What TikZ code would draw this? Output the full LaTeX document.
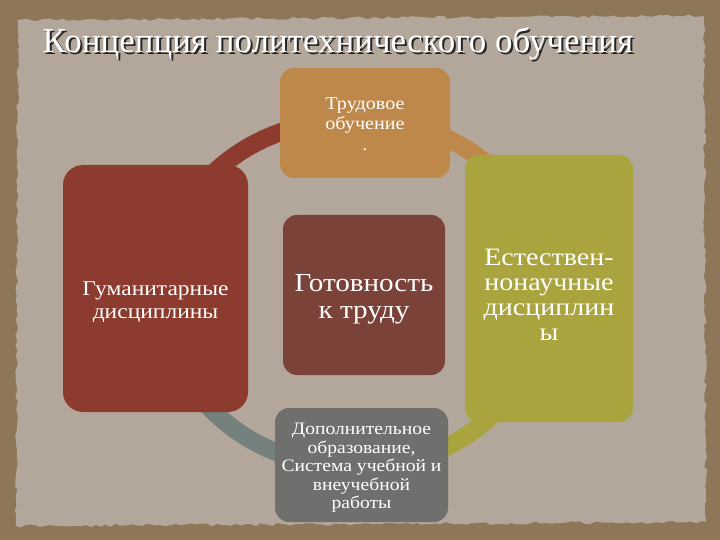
\documentclass[tikz,border=0pt]{standalone}
\usepackage{fontspec}
\setmainfont{Liberation Serif}
\newfontfamily\boxfont[FakeStretch=1.12]{Liberation Serif}
\usetikzlibrary{backgrounds,decorations.pathmorphing}

\definecolor{framecol}{HTML}{8E7659}
\definecolor{papercol}{HTML}{B3A79B}
\definecolor{labcol}{HTML}{BF884B}
\definecolor{humcol}{HTML}{8C3B2E}
\definecolor{corecol}{HTML}{7A4239}
\definecolor{natcol}{HTML}{A9A43D}
\definecolor{extcol}{HTML}{6F706D}
\definecolor{extarc}{HTML}{74817D}

\begin{document}
\begin{tikzpicture}[x=1pt,y=-1pt,
    box/.style={rounded corners=14pt,inner sep=0pt},
    boxtext/.style={text=white,align=center,inner sep=0pt},
    ring/.style={line width=18pt},
    titlefont/.style={font=\fontsize{35}{40}\selectfont}]

    \begin{scope}[on background layer]
        \fill[framecol] (0,0) rectangle (720,540);
        \fill[papercol,decorate,decoration={random steps,segment length=5pt,amplitude=1.5pt}]
            (18,20) -- (704,16) -- (706,522) -- (16,526) -- cycle;
    \end{scope}

    \node[titlefont,text=black!85] (titleshadow) at (340,46) {Концепция политехнического обучения};
    \node[titlefont,text=white] (title) at (338,44) {Концепция политехнического обучения};

    \node[box,fill=labcol,minimum width=170pt,minimum height=110pt] (lab) at (365,123) {};
    \node[box,fill=humcol,rounded corners=20pt,minimum width=185pt,minimum height=247pt] (hum) at (155.5,288.5) {};
    \node[box,fill=corecol,minimum width=162pt,minimum height=160pt] (core) at (364,295) {};
    \node[box,fill=natcol,minimum width=168pt,minimum height=267pt] (nat) at (549,288.5) {};
    \node[box,fill=extcol,minimum width=173pt,minimum height=114pt] (extra) at (361.5,465) {};

    \node[boxtext,font=\boxfont\fontsize{18}{20.5}\selectfont] (labtext) at ([yshift=-1pt]lab.center) {Трудовое\\обучение\\.};
    \node[boxtext,font=\boxfont\fontsize{21}{23}\selectfont] (humtext) at ([yshift=-14pt]hum.center) {Гуманитарные\\дисциплины};
    \node[boxtext,font=\boxfont\fontsize{26}{27}\selectfont] (coretext) at ([yshift=-4pt]core.center) {Готовность\\к труду};
    \node[boxtext,font=\boxfont\fontsize{25}{25}\selectfont] (nattext) at ([yshift=-6pt]nat.center) {Естествен-\\нонаучные\\дисциплин\\ы};
    \node[boxtext,font=\boxfont\fontsize{17.5}{18.5}\selectfont] (extratext) at ([yshift=-3pt]extra.center) {Дополнительное\\образование,\\Система учебной и\\внеучебной\\работы};

    % ring behind the boxes
    \begin{scope}[on background layer]
        \draw[ring,humcol] (hum.center) to[bend left=45] (lab.center);
        \draw[ring,labcol] (lab.center) to[bend left=45] (nat.center);
        \draw[ring,natcol] (nat.center) to[bend left=45] (extra.center);
        \draw[ring,extarc] (extra.center) to[bend left=45] (hum.center);
    \end{scope}

\end{tikzpicture}
\end{document}
